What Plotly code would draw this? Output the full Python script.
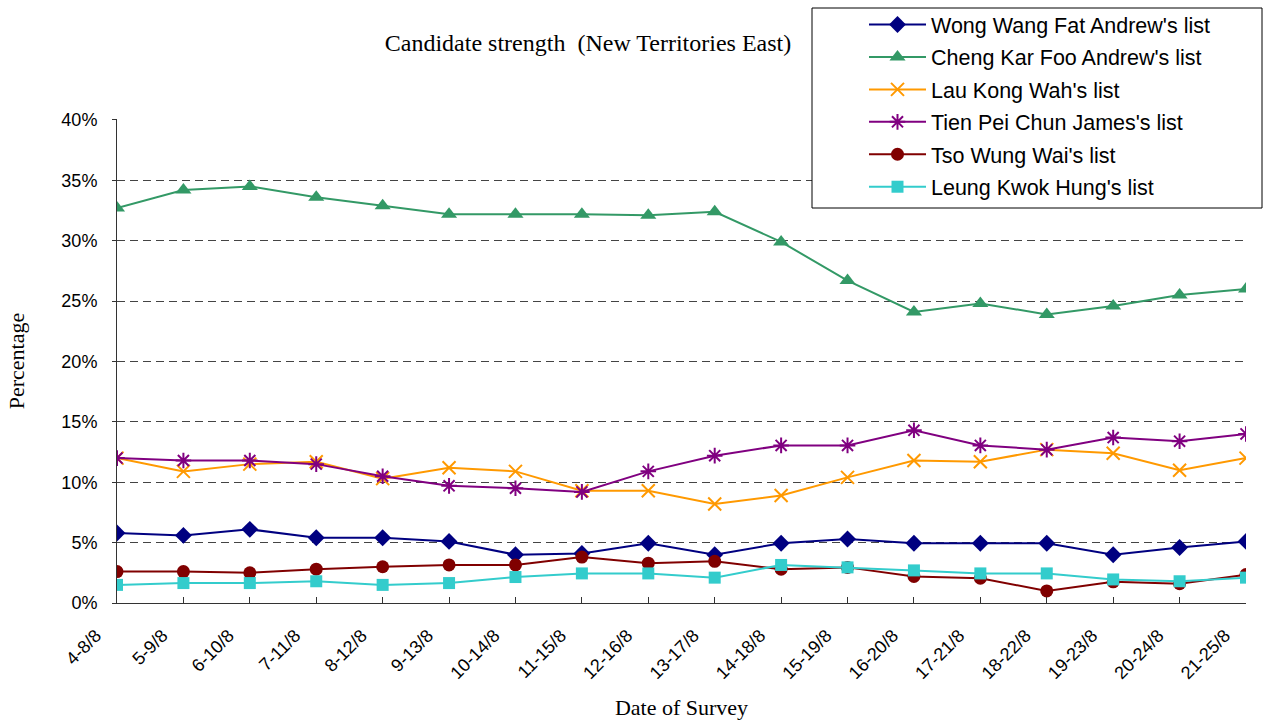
import plotly.graph_objects as go

categories = ["4-8/8", "5-9/8", "6-10/8", "7-11/8", "8-12/8", "9-13/8", "10-14/8", "11-15/8",
              "12-16/8", "13-17/8", "14-18/8", "15-19/8", "16-20/8", "17-21/8", "18-22/8",
              "19-23/8", "20-24/8", "21-25/8"]

wong = [5.8, 5.6, 6.1, 5.4, 5.4, 5.1, 4.0, 4.1, 4.95, 4.0, 4.95, 5.3, 4.95, 4.95, 4.95, 4.0, 4.6, 5.1]
cheng = [32.7, 34.2, 34.5, 33.6, 32.9, 32.2, 32.2, 32.2, 32.1, 32.4, 29.9, 26.7, 24.1, 24.8, 23.9, 24.6, 25.5, 26.0]
lau = [12.0, 10.9, 11.5, 11.7, 10.3, 11.2, 10.9, 9.3, 9.3, 8.2, 8.9, 10.4, 11.8, 11.7, 12.7, 12.4, 11.0, 12.0]
tien = [12.0, 11.8, 11.8, 11.5, 10.5, 9.7, 9.5, 9.2, 10.9, 12.2, 13.05, 13.05, 14.3, 13.05, 12.7, 13.7, 13.4, 14.0]
tso = [2.6, 2.6, 2.5, 2.8, 3.0, 3.15, 3.15, 3.8, 3.3, 3.45, 2.8, 2.95, 2.2, 2.05, 1.0, 1.75, 1.6, 2.35]
leung = [1.5, 1.65, 1.65, 1.8, 1.5, 1.65, 2.15, 2.45, 2.45, 2.1, 3.15, 2.95, 2.7, 2.45, 2.45, 1.95, 1.8, 2.1]

names = ["Wong Wang Fat Andrew's list", "Cheng Kar Foo Andrew's list", "Lau Kong Wah's list",
         "Tien Pei Chun James's list", "Tso Wung Wai's list", "Leung Kwok Hung's list"]
series = [wong, cheng, lau, tien, tso, leung]
colors = ["#000080", "#339966", "#FF9900", "#800080", "#800000", "#33CCCC"]
symbols = ["diamond", "triangle-up", "x-thin-open", "asterisk-open", "circle", "square"]
sizes = [13, 14, 13, 13, 13, 12]

W, H = 1264, 725
L, R, T, B = 117, 18, 119, 122
PW, PH = W - L - R, H - T - B


def px(x):
    return (x - L) / PW


def py(y):
    return (H - B - y) / PH


fig = go.Figure()
for i, (name, vals, c, s, sz) in enumerate(zip(names, series, colors, symbols, sizes)):
    fig.add_trace(go.Scatter(
        x=list(range(len(categories))), y=[v / 100 for v in vals], name=name,
        mode="lines+markers", legendgroup=f"g{i}",
        line=dict(color=c, width=2),
        marker=dict(symbol=s, size=sz, color=c, line=dict(color=c, width=2 if "open" in s else 0)),
    ))

fig.update_layout(
    width=W, height=H,
    paper_bgcolor="white", plot_bgcolor="white",
    margin=dict(l=L, r=R, t=T, b=B, autoexpand=False),
    title=dict(text="Candidate strength  (New Territories East)",
               font=dict(family="Liberation Serif, Times New Roman, serif", size=24, color="black"),
               x=588 / W, xanchor="center", y=1 - 43 / H, yanchor="middle"),
    legend=dict(x=px(864), y=py(4), xanchor="left", yanchor="top",
                borderwidth=0, bgcolor="rgba(0,0,0,0)",
                font=dict(family="Liberation Sans, Arial, sans-serif", size=21.5, color="black"),
                itemwidth=57, tracegroupgap=1.5),
    showlegend=True,
    shapes=[dict(type="rect", xref="paper", yref="paper",
                 x0=px(812), x1=px(1262), y0=py(208), y1=py(8),
                 line=dict(color="black", width=1), fillcolor="white", layer="above")],
)
fig.update_xaxes(
    range=[0, len(categories) - 1], automargin=False,
    tickmode="array", tickvals=list(range(len(categories))), ticktext=categories,
    tickangle=-45, ticks="inside", ticklen=6, tickcolor="#333333",
    ticklabelstandoff=14, ticklabelshift=-21,
    showline=True, linecolor="#333333", linewidth=1, showgrid=False, zeroline=False,
    tickfont=dict(family="Liberation Sans, Arial, sans-serif", size=18, color="black"),
    title=dict(text="Date of Survey", standoff=17,
               font=dict(family="Liberation Serif, Times New Roman, serif", size=22, color="black")),
)
fig.update_yaxes(
    range=[0, 0.4008], dtick=0.05, tickformat=".0%", automargin=False,
    ticks="outside", ticklen=4, tickcolor="#333333", ticklabelstandoff=11,
    showline=True, linecolor="#333333", linewidth=1,
    showgrid=True, gridcolor="#444444", griddash="8px,5px", gridwidth=1, zeroline=False,
    tickfont=dict(family="Liberation Sans, Arial, sans-serif", size=18, color="black"),
    title=dict(text="Percentage", standoff=30,
               font=dict(family="Liberation Serif, Times New Roman, serif", size=22, color="black")),
)

fig.write_html("out.html", config={"displayModeBar": False},
               post_script="document.body.style.margin='0';")
